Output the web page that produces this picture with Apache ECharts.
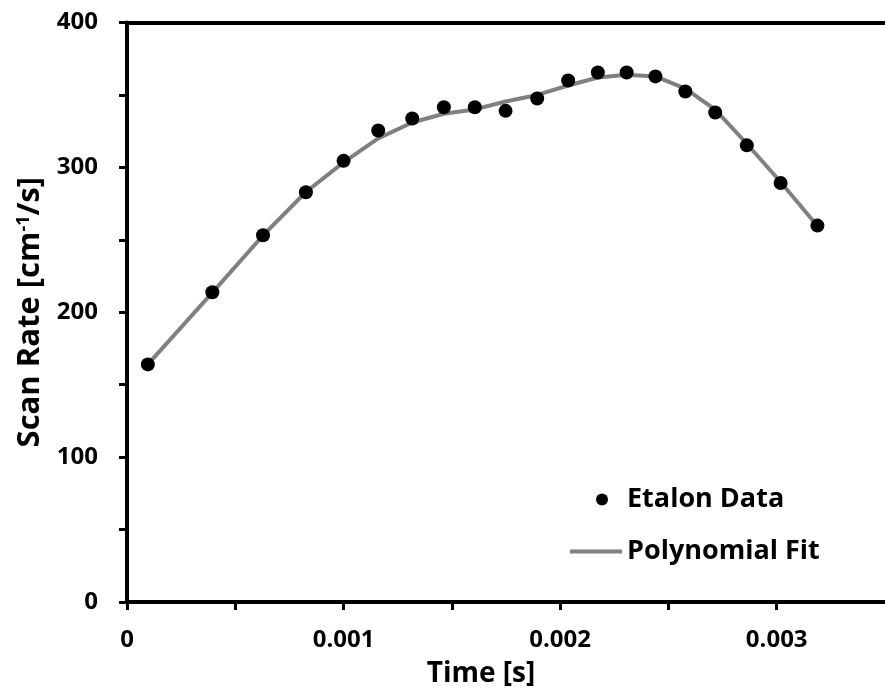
<!DOCTYPE html>
<html>
<head>
<meta charset="utf-8">
<script src="https://cdn.jsdelivr.net/npm/echarts@6/dist/echarts.min.js"></script>
<style>html,body{margin:0;padding:0;background:#fff}#c{width:885px;height:694px}</style>
</head>
<body>
<div id="c"></div>
<script>
const times = [0.0000963, 0.000394, 0.000628, 0.000826, 0.001, 0.00116, 0.001317, 0.001463, 0.001606, 0.001748, 0.001894, 0.002037, 0.002174, 0.002307, 0.00244, 0.002578, 0.002716, 0.002862, 0.003018, 0.003188];
const etalonRates = [164, 213.8, 253.1, 282.8, 304.5, 325.5, 333.7, 341.5, 341.5, 339, 347.5, 360, 365.5, 365.5, 362.8, 352.4, 337.9, 315.2, 289.2, 259.8];
const fitRates = [164, 213.5, 253, 283, 303.5, 320, 331, 337, 340, 345.5, 350, 356.5, 362, 364, 362.8, 354.3, 339.8, 316.3, 289.9, 259.5];
const xTickLabels = ['0', '0.001', '0.002', '0.003'];
const yTickLabels = ['0', '100', '200', '300', '400'];

const FONT = 'Open Sans';
const chart = echarts.init(document.getElementById('c'), null, {renderer: 'canvas'});
chart.setOption({
  animation: false,
  backgroundColor: '#fff',
  grid: {left: 127, right: -5, top: 22.5, bottom: 92, containLabel: false},
  legend: [
    {data: ['Etalon Data'], left: 591, top: 481, itemWidth: 12, itemHeight: 12, icon: 'circle',
     itemStyle: {color: '#000', opacity: 1},
     textStyle: {fontFamily: FONT, fontWeight: 'bold', fontSize: 27, color: '#000', padding: [0, 0, 0, 14]}},
    {data: ['Polynomial Fit'], left: 565, top: 533, itemWidth: 52, itemHeight: 4, icon: 'rect',
     itemStyle: {color: '#808080'},
     textStyle: {fontFamily: FONT, fontWeight: 'bold', fontSize: 27, color: '#000'}}
  ],
  xAxis: [{
    type: 'value', min: 0, max: 0.0035, interval: 0.0005,
    name: 'Time [s]', nameLocation: 'middle', nameGap: 58,
    nameTextStyle: {fontFamily: FONT, fontWeight: 'bold', fontSize: 28, color: '#000', padding: [0, 50, 0, 0]},
    axisLine: {lineStyle: {color: '#000', width: 4}},
    axisTick: {inside: false, length: 8, lineStyle: {color: '#000', width: 3}},
    axisLabel: {margin: 26, fontFamily: FONT, fontWeight: 'bold', fontSize: 24, color: '#000', showMaxLabel: false,
      formatter: v => { const i = Math.round(v / 0.001); return Math.abs(v - i * 0.001) < 1e-9 ? (xTickLabels[i] || '') : ''; }},
    splitLine: {show: false}
  }, {
    type: 'value', position: 'top', min: 0, max: 0.0035,
    axisLine: {show: true, onZero: false, lineStyle: {color: '#000', width: 4}},
    axisTick: {show: false}, axisLabel: {show: false}, splitLine: {show: false}
  }],
  yAxis: {
    type: 'value', min: 0, max: 400, interval: 50,
    name: 'Scan Rate [cm{sup|-1}/s]', nameLocation: 'middle', nameGap: 78, nameRotate: 90,
    nameTextStyle: {fontFamily: FONT, fontWeight: 'bold', fontSize: 31, color: '#000',
      rich: {sup: {fontFamily: FONT, fontWeight: 'bold', fontSize: 18, color: '#000', verticalAlign: 'top', padding: [0, 0, 13, 0]}}},
    axisLine: {show: true, lineStyle: {color: '#000', width: 4}},
    axisTick: {show: true, inside: false, length: 8, lineStyle: {color: '#000', width: 3}},
    axisLabel: {margin: 29, fontFamily: FONT, fontWeight: 'bold', fontSize: 24, color: '#000',
      formatter: v => (v % 100 === 0 ? yTickLabels[v / 100] : '')},
    splitLine: {show: false}
  },
  series: [
    {name: 'Polynomial Fit', type: 'line', symbol: 'none', z: 2,
     data: times.map((t, i) => [t, fitRates[i]]),
     lineStyle: {color: '#808080', width: 4}, itemStyle: {color: '#808080'}},
    {name: 'Etalon Data', type: 'scatter', symbol: 'circle', symbolSize: 14, z: 3,
     data: times.map((t, i) => [t, etalonRates[i]]),
     itemStyle: {color: '#000', opacity: 1}}
  ]
});
</script>
</body>
</html>
